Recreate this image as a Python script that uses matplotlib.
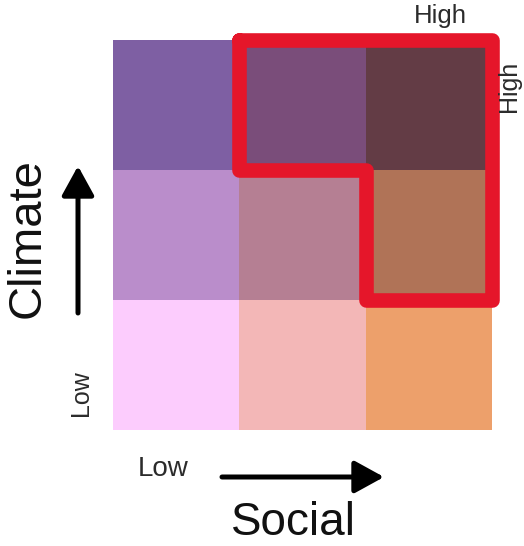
import matplotlib.pyplot as plt
import matplotlib.colors as mcolors
import numpy as np

# bivariate legend: rows = climate (low -> high), cols = social (low -> high)
cell_colors = [
    ["#FCCCFD", "#F3B7B7", "#EDA06B"],  # climate low
    ["#BA8DCB", "#B57F93", "#B07357"],  # climate mid
    ["#7E5FA3", "#7A4D7A", "#633C45"],  # climate high
]
# outline of the high/high group, in cell units
outline_x = [1, 3, 3, 2, 2, 1, 1]
outline_y = [3, 3, 1, 1, 2, 2, 3]

W, H = 524, 546
fig = plt.figure(figsize=(W / 100, H / 100), dpi=100)
plt.rcParams['font.family'] = ['Liberation Sans', 'DejaVu Sans']

def fx(px):
    return px / W

def fy(py):
    return 1 - py / H

ax = fig.add_axes([fx(113), fy(430), (492 - 113) / W, (430 - 40) / H])
rgb = np.array([[mcolors.to_rgb(c) for c in row] for row in cell_colors])
ax.imshow(rgb, extent=[0, 3, 0, 3], origin='lower', interpolation='nearest', aspect='auto')
ax.plot(outline_x, outline_y, color="#E5162A", lw=10.5, solid_joinstyle='round',
        solid_capstyle='round', clip_on=False)
ax.set_xlim(0, 3)
ax.set_ylim(0, 3)
ax.axis('off')

txt = "#2b2b2b"
lab = dict(ha='center', va='baseline', rotation_mode='anchor')
fig.text(fx(440), fy(23), "High", fontsize=18.5, color=txt, **lab)
fig.text(fx(516), fy(86), "High", fontsize=18, color=txt, rotation=90, **lab)
fig.text(fx(163), fy(476), "Low", fontsize=20, color=txt, **lab)
fig.text(fx(88), fy(393), "Low", fontsize=18, color=txt, rotation=90, **lab)
fig.text(fx(293), fy(535), "Social", fontsize=33, color="#111111", **lab)
fig.text(fx(40), fy(238), "Climate", fontsize=34, color="#111111", rotation=90, **lab)

arrow = dict(arrowstyle='-|>,head_length=0.6,head_width=0.33', lw=3.6, color='black',
             mutation_scale=30, shrinkA=0, shrinkB=0)
ax.annotate("", xy=(fx(384), fy(477)), xytext=(fx(222), fy(477)),
            xycoords='figure fraction', textcoords='figure fraction', arrowprops=arrow,
            annotation_clip=False)
ax.annotate("", xy=(fx(78), fy(166)), xytext=(fx(78), fy(313)),
            xycoords='figure fraction', textcoords='figure fraction', arrowprops=arrow,
            annotation_clip=False)

fig.savefig("out.png", dpi=100)
